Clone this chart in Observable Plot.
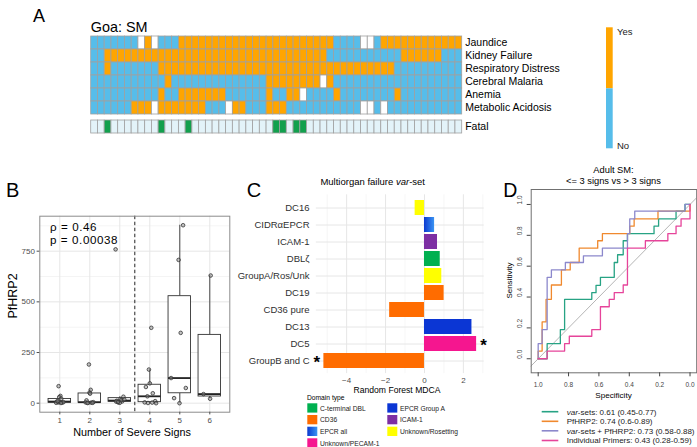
<!DOCTYPE html>
<html><head><meta charset="utf-8">
<script src="https://cdn.jsdelivr.net/npm/d3@7"></script>
<script src="https://cdn.jsdelivr.net/npm/@observablehq/plot@0.6"></script>
<style>
body{margin:0;background:#fff}
#root{position:relative;width:697px;height:447px;overflow:hidden;background:#fff;font-family:"Liberation Sans",Arial,sans-serif}
#root > svg{position:absolute;margin:0}
</style></head><body><div id="root"></div>
<script>
// ---------------- Panel A data ----------------
const rowNames = ["Jaundice","Kidney Failure","Respiratory Distress","Cerebral Malaria","Anemia","Metabolic Acidosis"];
// 1 = Yes, 0 = No, . = missing (55 patients, groups of 11)
const jaundice  = "0000000.1.0 00111111111 11111111111 1110000..01 11111111111";
const kidney    = "00111111111 11111111111 11111111111 11000000000 00111111000";
const respir    = "00100000001 11111111111 11111111111 11111111111 10000000000";
const cerebral  = "00000000000 10000000000 00001111111 1.100000000 00000000000";
const anemia    = "00000000001 00111111100 000010011.0 00010000000 01000000000";
const acidosis  = "000000111.1 111111000.1 10001110000 0000000..0. 00000000000";
const fatal     = "00100000001 00010000000 00000110110 00000000000 00000000000";
const yesNoDomain = ["1","0","."];
const yesNoColors = ["#FFA500","#56BDEA","#FFFFFF"];
const fatalDomain = ["1","0"];
const fatalColors = ["#12A04D","#E3F3F9"];

// ---------------- Panel B data ----------------
const signGroups = [1,2,3,4,5,6];
const boxQ1  = [2, 2, 7, 5, 49, 33];
const boxMed = [8, 5, 13, 34, 124, 45];
const boxQ3  = [21, 48, 25, 91, 528, 337];
const whiskLo = [0, 0, 0, 0, 0, 22];
const whiskHi = [36, 66, 32, 166, 878, 630];
// [jittered x, PfHRP2]
const sev1 = [[0.96,84],[1.02,36],[0.98,30],[1.05,22],[0.9,8],[0.95,4],[1.0,6],[1.08,3],[0.88,2],[1.12,5],[1.04,1],[0.93,10]];
const sev2 = [[1.97,191],[2.03,66],[1.99,52],[2.01,47],[1.89,14],[1.86,4],[1.95,2],[2.05,3],[2.12,5],[2.09,2],[1.92,1]];
const sev3 = [[2.86,759],[3.12,32],[3.02,20],[2.9,12],[2.95,4],[3.08,9],[3.05,15],[2.88,8],[3.15,18],[3.0,2],[2.94,6]];
const sev4 = [[4.05,372],[3.97,166],[4.0,98],[3.87,80],[4.1,49],[3.92,34],[4.18,10],[3.83,4],[3.94,1],[4.08,3],[4.21,0]];
const sev5 = [[5.11,878],[4.96,707],[5.03,347],[4.71,124],[5.2,75],[4.81,25],[4.99,0]];
const sev6 = [[6.03,630],[5.79,45],[6.01,22]];
const yTicksB = [0,250,500,750];
const yMinorB = [125,375,625,875];

// ---------------- Panel C data ----------------
const cNames  = ["DC16","CIDRαEPCR","ICAM-1","DBLζ","GroupA/Ros/Unk","DC19","CD36 pure","DC13","DC5","GroupB and C"];
const cValues = [-0.48, 0.52, 0.67, 0.81, 0.89, 1.01, -1.79, 2.44, 2.68, -5.17];
const cTypes  = ["Unknown/Rosetting","EPCR all","ICAM-1","C-terminal DBL","Unknown/Rosetting","CD36","CD36","EPCR Group A","Unknown/PECAM-1","CD36"];
const starRight = ["DC5"];
const starLeft  = ["GroupB and C"];
const domainTypes  = ["C-terminal DBL","CD36","EPCR all","Unknown/PECAM-1","EPCR Group A","ICAM-1","Unknown/Rosetting"];
const domainColors = ["#00B050","#FF6C00","url(#epcrGrad)","#F5168F","#0B36D4","#7D2FA3","#FFFF00"];
const xTicksC = [-4,-2,0,2];
const xMinorC = [-5,-3,-1,1,3];

// ---------------- Panel D data ----------------
const rocNames  = ["var-sets","PfHRP2","var-sets + PfHRP2","Individual Primers"];
const rocAUC    = ["0.61 (0.45-0.77)","0.74 (0.6-0.89)","0.73 (0.58-0.88)","0.43 (0.28-0.59)"];
const rocColors = ["#27A384","#F0892E","#8C88CC","#E6449A"];
// [specificity, sensitivity]
const rocVarsets = [[1,0],[0.941,0],[0.941,0.098],[0.854,0.098],[0.854,0.189],[0.826,0.189],[0.826,0.385],[0.647,0.385],[0.647,0.428],[0.619,0.428],[0.619,0.476],[0.590,0.476],[0.590,0.528],[0.499,0.528],[0.499,0.624],[0.477,0.624],[0.477,0.674],[0.440,0.674],[0.440,0.765],[0.412,0.765],[0.412,0.811],[0.237,0.811],[0.237,0.859],[0.207,0.859],[0.207,0.907],[0.092,0.907],[0.092,0.957],[0.033,0.957],[0.033,1],[0,1]];
const rocHRP2 = [[1,0],[1,0.05],[0.974,0.05],[0.974,0.239],[0.948,0.239],[0.948,0.385],[0.913,0.385],[0.913,0.478],[0.847,0.478],[0.847,0.576],[0.789,0.576],[0.789,0.624],[0.730,0.624],[0.730,0.717],[0.608,0.717],[0.608,0.765],[0.577,0.765],[0.577,0.811],[0.397,0.811],[0.397,0.859],[0.368,0.859],[0.368,0.907],[0.211,0.907],[0.211,0.957],[0,0.957],[0,1]];
const rocCombined = [[1,0],[1,0.098],[0.974,0.098],[0.974,0.189],[0.941,0.189],[0.941,0.528],[0.913,0.528],[0.913,0.576],[0.821,0.576],[0.821,0.624],[0.702,0.624],[0.702,0.667],[0.577,0.667],[0.577,0.717],[0.412,0.717],[0.412,0.811],[0.397,0.811],[0.397,0.907],[0.364,0.907],[0.364,0.957],[0.033,0.957],[0.033,1],[0,1]];
const rocPrimers = [[1,0],[0.941,0],[0.941,0.05],[0.826,0.05],[0.826,0.098],[0.795,0.098],[0.795,0.146],[0.647,0.146],[0.647,0.189],[0.590,0.189],[0.590,0.337],[0.532,0.337],[0.532,0.385],[0.499,0.385],[0.499,0.428],[0.440,0.428],[0.440,0.478],[0.412,0.478],[0.412,0.717],[0.294,0.717],[0.294,0.765],[0.146,0.765],[0.146,0.811],[0.092,0.811],[0.092,0.859],[0.059,0.859],[0.059,0.907],[0,0.907],[0,1]];
const specTicks = [1,0.8,0.6,0.4,0.2,0];
const sensTicks = [0,0.2,0.4,0.6,0.8,1];
const diagSpec = [1.2,-0.2];

// ---------------- rendering ----------------
const FONT = '"Liberation Sans", Arial, Helvetica, sans-serif';
const root = document.getElementById("root");
const baseStyle = {fontFamily: FONT, background: "transparent", overflow: "visible", fontSize: "10px"};
function place(svg, left, top){ svg.style.left = left+"px"; svg.style.top = top+"px"; root.appendChild(svg); }

// gradient defs (document-wide)
const defs = d3.create("svg").attr("width",0).attr("height",0).style("position","absolute");
const g = defs.append("defs").append("linearGradient").attr("id","epcrGrad").attr("x1","0").attr("x2","1").attr("y1","0").attr("y2","0");
g.append("stop").attr("offset","0").attr("stop-color","#0B3AD0");
g.append("stop").attr("offset","1").attr("stop-color","#3A93F2");
root.appendChild(defs.node());

// Panel A heatmap
const rowStrings = [jaundice, kidney, respir, cerebral, anemia, acidosis];
const cellsA = rowStrings.flatMap((s, ri) => s.replace(/ /g,"").split("").map((v, i) => ({row: rowNames[ri], col: i, v})));
const fatalCells = fatal.replace(/ /g,"").split("").map((v, i) => ({row: "Fatal", col: i, v}));
const colIdx = fatalCells.map(d => d.col);

place(Plot.plot({
  width: 697, height: 90, marginLeft: 90.7, marginRight: 235.3, marginTop: 5, marginBottom: 5,
  style: baseStyle,
  x: {type: "band", domain: colIdx, padding: 0, axis: null},
  y: {type: "band", domain: rowNames, padding: 0},
  color: {type: "ordinal", domain: yesNoDomain, range: yesNoColors},
  marks: [
    Plot.cell(cellsA, {x: "col", y: "row", fill: "v", stroke: "#A0A0A0", strokeWidth: 0.8}),
    Plot.axisY({anchor: "right", tickSize: 0, tickPadding: 3, fontSize: 10.5, label: null})
  ]
}), 0, 30);

place(Plot.plot({
  width: 697, height: 25, marginLeft: 90.7, marginRight: 235.3, marginTop: 5, marginBottom: 6.7,
  style: baseStyle,
  x: {type: "band", domain: colIdx, padding: 0, axis: null},
  y: {type: "band", domain: ["Fatal"], padding: 0},
  color: {type: "ordinal", domain: fatalDomain, range: fatalColors},
  marks: [
    Plot.cell(fatalCells, {x: "col", y: "row", fill: "v", stroke: "#A0A0A0", strokeWidth: 0.8}),
    Plot.axisY({anchor: "right", tickSize: 0, tickPadding: 3, fontSize: 10.5, label: null})
  ]
}), 0, 115);

// Panel B boxplot
const boxes = signGroups.map((s, i) => ({g: s, q1: boxQ1[i], med: boxMed[i], q3: boxQ3[i], lo: whiskLo[i], hi: whiskHi[i]}));
const ptsB = [sev1, sev2, sev3, sev4, sev5, sev6].flat().map(([x, y]) => ({x, y}));
place(Plot.plot({
  width: 240, height: 245, marginLeft: 39.3, marginRight: 10.7, marginTop: 15.7, marginBottom: 33.3,
  style: baseStyle,
  x: {domain: [0.333, 6.667]},
  y: {domain: [-44.4, 922.6]},
  marks: [
    Plot.ruleY(yMinorB, {stroke: "#EDEDED", strokeWidth: 0.6}),
    Plot.ruleY(yTicksB, {stroke: "#E6E6E6", strokeWidth: 1}),
    Plot.ruleX(signGroups, {stroke: "#E6E6E6", strokeWidth: 1}),
    Plot.ruleX(boxes, {x: "g", y1: "q3", y2: "hi", stroke: "#333", strokeWidth: 0.9}),
    Plot.ruleX(boxes, {x: "g", y1: "lo", y2: "q1", stroke: "#333", strokeWidth: 0.9}),
    Plot.rect(boxes, {x1: d => d.g - 0.375, x2: d => d.g + 0.375, y1: "q1", y2: "q3", fill: "white", stroke: "#333", strokeWidth: 0.9}),
    Plot.ruleY(boxes, {x1: d => d.g - 0.375, x2: d => d.g + 0.375, y: "med", stroke: "#222", strokeWidth: 1.8}),
    Plot.ruleX([3.5], {stroke: "#222", strokeWidth: 1, strokeDasharray: "3.5,2.5"}),
    Plot.dot(ptsB, {x: "x", y: "y", r: 1.8, stroke: "#333", strokeWidth: 0.8, fill: "#8a8a8a", fillOpacity: 0.5}),
    Plot.frame({stroke: "#8C8C8C", strokeWidth: 1}),
    Plot.axisY({ticks: yTicksB, tickSize: 2.7, tickPadding: 2.2, fontSize: 8, color: "#4D4D4D", label: null}),
    Plot.axisX({ticks: signGroups, tickFormat: d => String(d), tickSize: 2.7, tickPadding: 2.9, fontSize: 8, color: "#4D4D4D", label: null})
  ]
}), 0, 200);

// Panel C bar chart
const cData = cNames.map((n, i) => ({name: n, value: cValues[i], type: cTypes[i]}));
place(Plot.plot({
  width: 260, height: 230, marginLeft: 85.8, marginRight: 6.3, marginTop: 24.3, marginBottom: 26.9,
  style: baseStyle,
  x: {domain: [-5.56, 3.07]},
  y: {type: "band", domain: cNames, padding: 0.1},
  color: {type: "ordinal", domain: domainTypes, range: domainColors},
  marks: [
    Plot.ruleX(xMinorC, {stroke: "#F0F0F0", strokeWidth: 0.6}),
    Plot.ruleX(xTicksC, {stroke: "#E6E6E6", strokeWidth: 1}),
    Plot.gridY({stroke: "#E6E6E6", strokeOpacity: 1, strokeWidth: 1}),
    Plot.barX(cData, {x: "value", y: "name", fill: "type"}),
    Plot.text(cData.filter(d => starRight.includes(d.name)), {x: "value", y: "name", text: () => "*", dx: 7, dy: 2, fontSize: 17, fontWeight: "bold", fill: "#000"}),
    Plot.text(cData.filter(d => starLeft.includes(d.name)), {x: "value", y: "name", text: () => "*", dx: -7, dy: 2, fontSize: 17, fontWeight: "bold", fill: "#000"}),
    Plot.axisY({tickSize: 0, tickPadding: 6.8, fontSize: 9.5, color: "#303030", label: null}),
    Plot.axisX({ticks: xTicksC, tickSize: 0, tickPadding: 3.7, fontSize: 8, color: "#4D4D4D", label: null})
  ]
}), 230, 170);

// Panel D ROC
const rocSets = [rocVarsets, rocHRP2, rocCombined, rocPrimers];
const rocData = rocSets.flatMap((s, k) => s.map(([sp, se]) => ({spec: sp, sens: se, curve: rocNames[k]})));
place(Plot.plot({
  width: 207, height: 245, marginLeft: 40.7, marginRight: 0.8, marginTop: 29, marginBottom: 32.7,
  style: baseStyle,
  x: {domain: [1.046, -0.044]},
  y: {domain: [-0.091, 1.097]},
  color: {type: "ordinal", domain: rocNames, range: rocColors},
  marks: [
    Plot.line(diagSpec, {x: d => d, y: d => 1 - d, stroke: "#B5B5B5", strokeWidth: 1, clip: true}),
    Plot.line(rocData, {x: "spec", y: "sens", z: "curve", stroke: "curve", strokeWidth: 1.3}),
    Plot.frame({stroke: "#707070", strokeWidth: 1}),
    Plot.axisX({ticks: specTicks, tickFormat: d => d.toFixed(1), tickSize: 4, tickPadding: 5.5, fontSize: 6.5, color: "#444", label: null}),
    Plot.axisY({ticks: sensTicks, tickFormat: () => "", tickSize: 4, color: "#444", label: null}),
    Plot.text(sensTicks, {y: d => d, text: d => d.toFixed(1), frameAnchor: "left", dx: -11.2, rotate: -90, fontSize: 6.5, fill: "#444"})
  ]
}), 490, 160);

// ---------------- overlay texts & legends ----------------
const ov = d3.create("svg").attr("width", 697).attr("height", 447)
  .style("position","absolute").style("left","0px").style("top","0px").style("pointer-events","none")
  .attr("font-family", FONT);
function T(parts, x, y, size, o = {}) {
  const t = ov.append("text").attr("x", x).attr("y", y).attr("font-size", size)
    .attr("fill", o.fill || "#000").attr("text-anchor", o.anchor || "start");
  if (o.rotate) t.attr("transform", `rotate(${o.rotate},${x},${y})`);
  if (o.weight) t.attr("font-weight", o.weight);
  if (o.spacing) t.attr("letter-spacing", o.spacing);
  (Array.isArray(parts) ? parts : [[parts]]).forEach(([s, st]) => t.append("tspan").attr("font-style", st || "normal").text(s));
  return t;
}
// Panel A
T("A", 33, 21.5, 18);
T("Goa: SM", 90.7, 31.5, 14.4);
ov.append("rect").attr("x", 606).attr("y", 27.3).attr("width", 6.7).attr("height", 61).attr("fill", yesNoColors[0]);
ov.append("rect").attr("x", 606).attr("y", 88.3).attr("width", 6.7).attr("height", 60).attr("fill", yesNoColors[1]);
T("Yes", 617, 35, 9.5, {fill: "#222"});
T("No", 617, 148.5, 9.5, {fill: "#222"});
// Panel B
T("B", 6, 196.7, 20);
T("ρ = 0.46", 50, 230.6, 11.6, {spacing: 0.6});
T("p = 0.00038", 50, 244.4, 11.6, {spacing: 0.6});
T("PfHRP2", 16.7, 296, 12.5, {anchor: "middle", rotate: -90});
T("Number of Severe Signs", 132, 436, 10.8, {anchor: "middle"});
// Panel C
T("C", 246.7, 196.7, 20);
T([["Multiorgan failure "], ["var", "italic"], ["-set"]], 372.7, 185, 9.5, {anchor: "middle"});
T("Random Forest MDCA", 397, 392.7, 8.6, {anchor: "middle"});
T("Domain type", 307, 400, 6.7);
const legCols = [[0,1,2,3],[4,5,6]];
const legX = [307.3, 387.3];
const legRowTop = [403.3, 415, 426.7, 438.3];
legCols.forEach((col, ci) => col.forEach((k, ri) => {
  ov.append("rect").attr("x", legX[ci]).attr("y", legRowTop[ri]).attr("width", 10).attr("height", 9.3).attr("fill", domainColors[k]);
  T(domainTypes[k], legX[ci] + 12.7, legRowTop[ri] + 7.2, 6.7, {fill: "#222"});
}));
// Panel D
T("D", 503.3, 197.3, 19.5);
T("Adult SM:", 613.5, 173, 9.3, {anchor: "middle"});
T("<= 3 signs vs > 3 signs", 613.5, 183.5, 9.3, {anchor: "middle"});
T("Sensitivity", 512.5, 280.6, 8, {anchor: "middle", rotate: -90});
T("Specificity", 613.5, 398, 8.1, {anchor: "middle"});
const legDY = [411.7, 421.3, 430.8, 440.5];
rocNames.forEach((n, k) => {
  ov.append("line").attr("x1", 541.7).attr("x2", 558.3).attr("y1", legDY[k]).attr("y2", legDY[k])
    .attr("stroke", rocColors[k]).attr("stroke-width", 1.6);
  const parts = n.startsWith("var") ? [["var", "italic"], [n.slice(3) + ": " + rocAUC[k]]] : [[n + ": " + rocAUC[k]]];
  T(parts, 566.7, legDY[k] + 2.8, 8, {fill: "#222"});
});
root.appendChild(ov.node());
</script></body></html>
